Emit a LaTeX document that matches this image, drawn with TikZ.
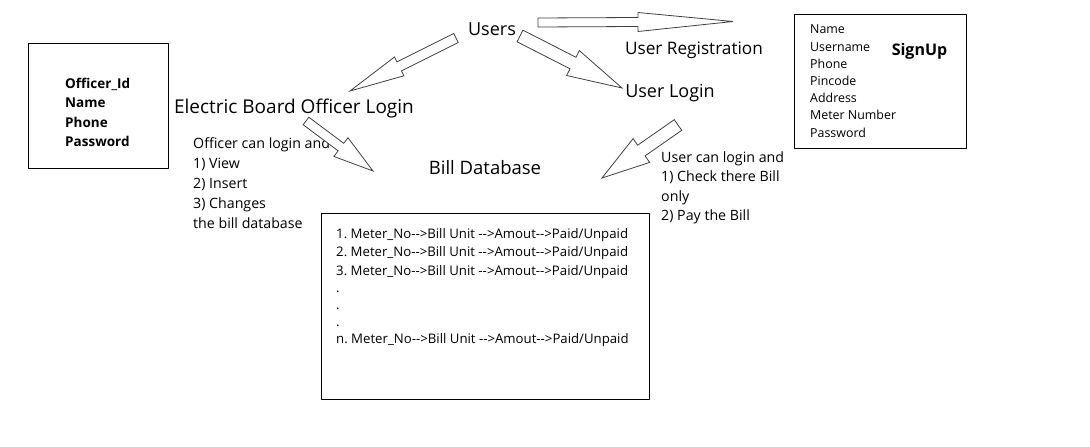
\documentclass[tikz,border=0pt]{standalone}
\usepackage{fontspec}
\setmainfont{Open Sans}
\usetikzlibrary{calc}

\tikzset{
  box/.style={draw=black,line width=1pt,inner sep=0pt},
  big/.style={font=\fontsize{18}{22}\selectfont,inner sep=0pt,anchor=base},
  field/.style={font=\fontsize{13.5}{16}\selectfont\bfseries,inner sep=0pt,anchor=base west},
  sfield/.style={font=\fontsize{12.4}{15}\selectfont,inner sep=0pt,anchor=base west},
  note/.style={font=\fontsize{14.2}{17}\selectfont,inner sep=0pt,anchor=base west},
  row/.style={font=\fontsize{13.2}{16}\selectfont,inner sep=0pt,anchor=base west},
  hollow/.style={draw=black!75,fill=white,line width=0.8pt,line join=miter}
}

% tail, tip, half shaft width, half head width, head length
\newcommand{\blockarrow}[5]{%
\coordinate (hb) at ($(#2)!#5!(#1)$);
\draw[hollow] ($(#1)!#3!90:(#2)$)--($(hb)!#3!90:(#2)$)--($(hb)!#4!90:(#2)$)--(#2)
  --($(hb)!#4!-90:(#2)$)--($(hb)!#3!-90:(#2)$)--($(#1)!#3!-90:(#2)$)--cycle;}

\begin{document}
\begin{tikzpicture}[x=1pt,y=-1pt,line join=round,line cap=round]
\useasboundingbox (0,0) rectangle (1090,447);

% boxes
\node[box,minimum width=140pt,minimum height=125pt] (offbox) at (98.3,105.8) {};
\node[box,minimum width=172pt,minimum height=134pt] (signbox) at (880,81) {};
\node[box,minimum width=328pt,minimum height=186pt] (billbox) at (485,306) {};

% titles
\node[big] (users) at (492,35.4) {Users};
\node[big,font=\fontsize{17.2}{21}\selectfont] (ureg) at (694,54.4) {User Registration};
\node[big,font=\fontsize{19}{23}\selectfont] (ebol) at (294,113.8) {Electric Board Officer Login};
\node[big] (ulogin) at (670,97.4) {User Login};
\node[big,font=\fontsize{18.5}{22}\selectfont] (billdb) at (485,174.6) {Bill Database};

% officer table
\foreach \txt [count=\i] in {Officer\_Id,Name,Phone,Password}
  \node[field] (of\i) at (65,68.5+19.5*\i) {\txt};

% signup table
\foreach \txt [count=\i] in {Name,Username,Phone,Pincode,Address,Meter Number,Password}
  \node[sfield] (sf\i) at (810,16.6+17.23*\i) {\txt};
\node[font=\fontsize{16}{19}\selectfont\bfseries,inner sep=0pt,anchor=base] (signup) at (919.5,55.7) {SignUp};

% notes
\foreach \txt [count=\i] in {Officer can login and,1) View,2) Insert,3) Changes,the bill database}
  \node[note] (on\i) at (193,129+19.8*\i) {\txt};
\foreach \txt [count=\i] in {User can login and,1) Check there Bill,only,2) Pay the Bill}
  \node[note] (un\i) at (661,142.5+19.5*\i) {\txt};

% bill rows
\foreach \pre/\yy [count=\i] in {1./238,2./256.5,3./275,n./343}
  \node[row] (bl\i) at (336,\yy) {\pre\ Meter\_No-{}->Bill Unit -{}->Amout-{}->Paid/Unpaid};
\foreach \yy [count=\i] in {292,309,326}
  \node[row] (dot\i) at (336,\yy) {.};

% arrow ends
\coordinate (a1s) at (456,38);  \coordinate (a1e) at (350,91);
\coordinate (a2s) at (538,22.5);\coordinate (a2e) at (733,21.5);
\coordinate (a3s) at (520,36);  \coordinate (a3e) at (622,88);
\coordinate (a4s) at (306,121); \coordinate (a4e) at (373,171);
\coordinate (a5s) at (678,125); \coordinate (a5e) at (602,178);

\blockarrow{a1s}{a1e}{5pt}{10.5pt}{55pt}
\blockarrow{a2s}{a2e}{4.5pt}{9.5pt}{95pt}
\blockarrow{a3s}{a3e}{6.5pt}{14pt}{55pt}
\blockarrow{a4s}{a4e}{4.7pt}{11.7pt}{40pt}
\blockarrow{a5s}{a5e}{6.5pt}{14.5pt}{48pt}
\end{tikzpicture}
\end{document}
